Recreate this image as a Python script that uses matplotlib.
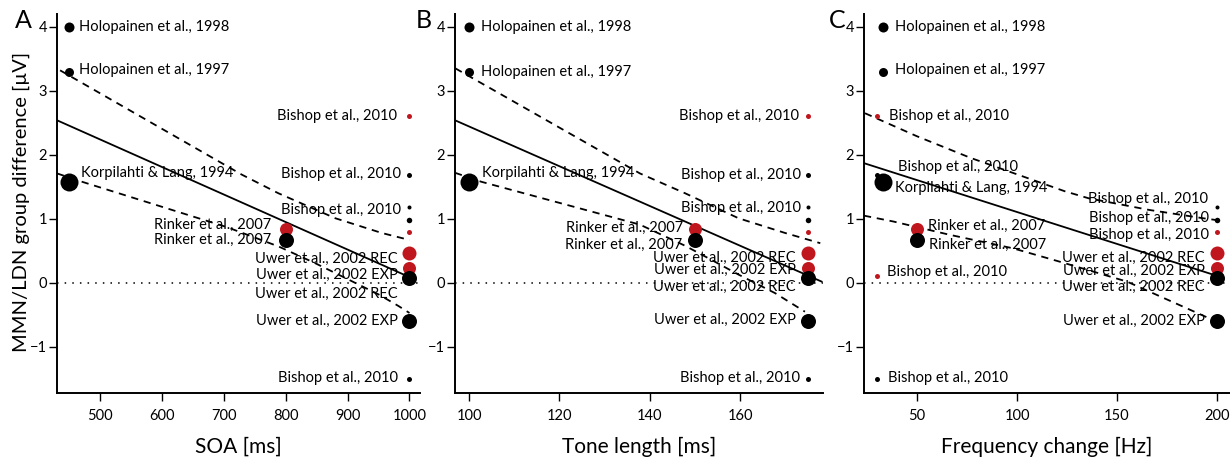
import matplotlib
matplotlib.use('Agg')
import matplotlib.pyplot as plt

plt.rcParams['font.family'] = ['Lato', 'DejaVu Sans']

# studies (one entry per marker)
names = ["Holopainen et al., 1998", "Holopainen et al., 1997", "Korpilahti & Lang, 1994",
         "Rinker et al., 2007", "Rinker et al., 2007",
         "Uwer et al., 2002 REC", "Uwer et al., 2002 EXP",
         "Uwer et al., 2002 REC", "Uwer et al., 2002 EXP",
         "Bishop et al., 2010", "Bishop et al., 2010", "Bishop et al., 2010",
         "Bishop et al., 2010", "Bishop et al., 2010", "Bishop et al., 2010",
         "Bishop et al., 2010"]
diff_uv = [4.0, 3.3, 1.58, 0.84, 0.67, 0.46, 0.23, 0.07, -0.6,
           2.6, 1.69, 1.18, 0.98, 0.79, 0.1, -1.5]
is_red = [0, 0, 0, 1, 0, 1, 1, 0, 0, 1, 0, 0, 0, 1, 1, 0]
soa = [450, 450, 450, 800, 800, 1000, 1000, 1000, 1000,
       1000, 1000, 1000, 1000, 1000, 1000, 1000]
tone = [100, 100, 100, 150, 150, 175, 175, 175, 175,
        175, 175, 175, 175, 175, 175, 175]
freq = [33, 33, 33, 50, 50, 200, 200, 200, 200,
        30, 30, 200, 200, 200, 30, 30]

# regression line and bands
fitA_x = [430, 1000]
fitA_y = [2.54, 0.09]
upA_x = [435, 729, 788, 880, 955, 1000]
upA_y = [3.32, 1.69, 1.40, 1.01, 0.78, 0.67]
loA_x = [430, 467, 705, 788, 847, 885, 950, 982, 1000]
loA_y = [1.71, 1.59, 0.87, 0.57, 0.31, 0.13, -0.18, -0.36, -0.47]

fitB_x = [96.9, 178]
fitB_y = [2.54, 0.02]
upB_x = [97, 137.8, 147.8, 159.6, 169.9, 177.7]
upB_y = [3.35, 1.71, 1.40, 1.01, 0.78, 0.62]
loB_x = [96.9, 102.7, 137.8, 147.8, 154.4, 159.6, 167.7, 174.3]
loB_y = [1.72, 1.58, 0.91, 0.58, 0.33, 0.13, -0.16, -0.45]

fitC_x = [23.5, 200]
fitC_y = [1.87, 0.11]
upC_x = [24, 50, 77, 124, 136, 166, 193, 200]
upC_y = [2.65, 2.29, 1.95, 1.43, 1.32, 1.14, 1.01, 0.98]
loC_x = [23.5, 38, 66.5, 98, 121.5, 155, 176.5, 198]
loC_y = [1.05, 0.96, 0.75, 0.54, 0.33, 0.02, -0.28, -0.58]

# marker diameters in pixels
marker_px = [10, 9, 18, 13, 15, 14, 13, 15, 15, 5, 5, 4, 5.5, 5, 5, 5]

# label placement: (dx px, dy px, ha) or None
labA = [(10, 0, 'left'), (10, 2, 'left'), (12, 9, 'left'),
        (-15, 4, 'right'), (-15, 0, 'right'),
        (-12, -5, 'right'), (-12, -7, 'right'), (-12, -15, 'right'), (-12, 0, 'right'),
        (-12, 0, 'right'), (-8, 1, 'right'), (-8, -3, 'right'),
        None, None, None, (-11, 1, 'right')]
labB = [(12, 0, 'left'), (12, 0, 'left'), (13, 9, 'left'),
        (-12, 1.5, 'right'), (-13, -4.5, 'right'),
        (-12, -4, 'right'), (-12, -2, 'right'), (-12, -8, 'right'), (-12, 1, 'right'),
        (-9, 0, 'right'), (-7, 0, 'right'), (-7, -0.5, 'right'),
        None, None, None, (-8, 1, 'right')]
labC = [(12, 0, 'left'), (12, 2, 'left'), (12, -6, 'left'),
        (11, 3, 'left'), (12, -5, 'left'),
        (-12, -4, 'right'), (-12, -3, 'right'), (-12, -8, 'right'), (-12, 0, 'right'),
        (12, 0, 'left'), (21, 8, 'left'), (-9, 8, 'right'),
        (-8, 2, 'right'), (-8, -3, 'right'), (10, 4, 'left'), (11, 1, 'left')]

RED = '#c0161d'

W, H = 1230, 458
fig = plt.figure(figsize=(W / 100, H / 100), dpi=100)

panels = [
    ('A', 15, soa, (57, 420), (430, 1017), [500, 600, 700, 800, 900, 1000], 'SOA [ms]',
     fitA_x, fitA_y, upA_x, upA_y, loA_x, loA_y, labA),
    ('B', 416, tone, (455, 823), (96.9, 178.3), [100, 120, 140, 160], 'Tone length [ms]',
     fitB_x, fitB_y, upB_x, upB_y, loB_x, loB_y, labB),
    ('C', 829, freq, (864, 1230), (23.5, 206.5), [50, 100, 150, 200], 'Frequency change [Hz]',
     fitC_x, fitC_y, upC_x, upC_y, loC_x, loC_y, labC),
]

top, bottom = 14, 393
for letter, letter_x, xs, (l, r), xlim, xticks, xlabel, fx, fy, ux, uy, lx, ly, labs in panels:
    ax = fig.add_axes([l / W, 1 - bottom / H, (r - l) / W, (bottom - top) / H])
    ax.set_xlim(*xlim)
    ax.set_ylim(-1.72, 4.2)

    ax.plot(xlim, [0, 0], color='black', lw=1.1, ls=(0, (1, 4)), zorder=1)
    ax.plot(fx, fy, color='black', lw=1.3, zorder=2)
    ax.plot(ux, uy, color='black', lw=1.3, ls=(0, (4, 3.2)), zorder=2)
    ax.plot(lx, ly, color='black', lw=1.3, ls=(0, (4, 3.2)), zorder=2)

    # small points first, then red, then black on top
    order = sorted(range(len(diff_uv)), key=lambda i: (marker_px[i] > 8, is_red[i] == 0))
    for i in order:
        ax.scatter(xs[i], diff_uv[i], s=(marker_px[i] * 0.72) ** 2,
                   color=RED if is_red[i] else 'black', lw=0, zorder=3,
                   clip_on=False)

    for i, lab in enumerate(labs):
        if lab is None:
            continue
        dx, dy, ha = lab
        ax.annotate(names[i], (xs[i], diff_uv[i]), xytext=(dx, dy),
                    textcoords='offset pixels', ha=ha, va='center',
                    fontsize=10.5, zorder=4, annotation_clip=False)

    for s in ['top', 'right']:
        ax.spines[s].set_visible(False)
    for s in ['left', 'bottom']:
        ax.spines[s].set_linewidth(1.4)
    ax.set_xticks(xticks)
    ax.set_yticks([-1, 0, 1, 2, 3, 4])
    ax.tick_params(axis='both', direction='out', length=5.5, width=1, labelsize=10.5)
    ax.tick_params(axis='y', pad=1.5)
    ax.tick_params(axis='x', pad=6)
    ax.set_xlabel(xlabel, fontsize=15, labelpad=10)

    fig.text(letter_x / W, 1 - 20 / H, letter, fontsize=18, va='center', ha='left')

fig.text(21 / W, 1 - 202 / H, 'MMN/LDN group difference [µV]', fontsize=14.5,
         rotation=90, ha='center', va='center')

fig.savefig('out.png', dpi=100)
